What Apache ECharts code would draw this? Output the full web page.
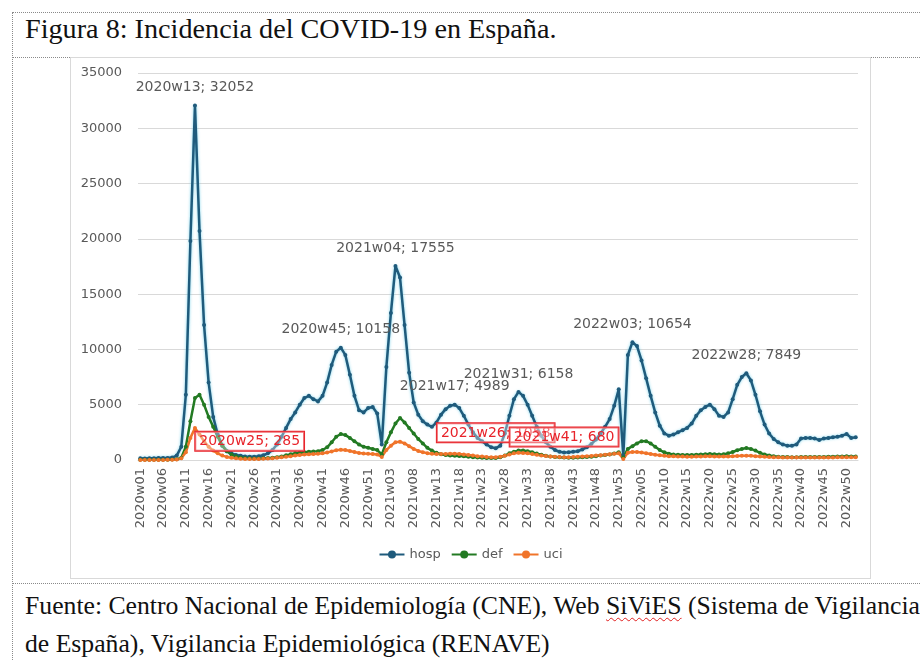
<!DOCTYPE html>
<html><head><meta charset="utf-8">
<script src="https://cdn.jsdelivr.net/npm/echarts@6/dist/echarts.min.js"></script>
<style>
html,body{margin:0;padding:0;background:#fff;width:920px;height:660px;overflow:hidden;}
body{position:relative;}
.hl{position:absolute;height:0;border-top:1px dotted #8a8a8a;}
.vl{position:absolute;width:0;border-left:1px dotted #8a8a8a;}
#title{position:absolute;left:25px;top:13px;font-family:'Liberation Serif','Times New Roman',serif;font-size:28.2px;color:#111;white-space:nowrap;}
#foot{position:absolute;left:25px;top:587px;font-family:'Liberation Serif','Times New Roman',serif;font-size:25.7px;line-height:38px;color:#111;white-space:nowrap;}
.sq{text-decoration:underline wavy #e02020;text-decoration-thickness:1px;text-underline-offset:3px;}
#chart{position:absolute;left:71px;top:58px;width:799px;height:520px;background:#fff;outline:1px solid #d9d9d9;}
</style></head>
<body>
<div class="hl" style="left:12px;top:12px;width:908px"></div>
<div class="vl" style="left:12px;top:12px;height:648px"></div>
<div class="hl" style="left:12px;top:57px;width:908px"></div>
<div class="hl" style="left:12px;top:583px;width:908px"></div>
<div id="title">Figura 8: Incidencia del COVID-19 en España.</div>
<div id="foot">Fuente: Centro Nacional de Epidemiología (CNE), Web <span class="sq">SiViES</span> (Sistema de Vigilancia<br>de España), Vigilancia Epidemiológica (RENAVE)</div>
<div id="chart"></div>
<script>
// ---- categories (weeks as used in the source) ----
var years = [2020, 2021, 2022];
var weeksPerYear = [53, 53, 52];
var categories = [];
years.forEach(function (y, k) {
  for (var w = 1; w <= weeksPerYear[k]; w++) categories.push(y + 'w' + (w < 10 ? '0' + w : w));
});

// ---- series values ----
var hosp2020 = [150,140,150,160,170,170,180,220,400,1200,5900,19800,32052,20700,12200,7000,3900,2300,1300,800,600,460,380,320,285,300,340,430,600,900,1400,2100,2900,3700,4300,5000,5600,5800,5500,5300,5800,7000,8600,9800,10158,9500,7700,5800,4500,4300,4700,4800,4200];
var hosp2021 = [1400,8400,13300,17555,16500,12200,7900,5200,4100,3500,3200,3000,3400,4100,4600,4900,4989,4700,4000,3200,2500,2000,1700,1400,1150,1058,1300,2400,4000,5500,6158,5800,5000,4000,3000,2200,1600,1200,900,750,680,700,750,800,950,1150,1450,1850,2400,3000,3700,4900,6400];
var hosp2022 = [400,9500,10654,10300,9000,7400,5800,4300,3100,2400,2200,2300,2500,2700,2900,3300,4000,4500,4800,5000,4600,4000,3900,4300,5500,6800,7500,7849,7200,5900,4400,3200,2400,1900,1600,1400,1300,1300,1400,1950,2000,2000,1950,1800,1950,2000,2050,2100,2200,2350,2000,2050];

var def2020 = [20,20,20,20,20,25,30,40,60,200,1200,3500,5600,5900,5000,3900,3000,2100,1300,800,500,330,230,180,150,140,140,150,170,200,250,320,420,520,600,650,700,750,780,800,900,1150,1600,2100,2350,2250,2000,1700,1400,1200,1100,1000,900];
var def2021 = [500,1600,2500,3300,3800,3400,2900,2400,1900,1500,1100,850,650,520,450,400,380,360,330,300,260,230,200,190,180,190,250,400,600,750,850,850,800,700,580,470,380,320,270,240,220,210,210,220,240,270,300,350,400,450,500,580,700];
var def2022 = [250,1000,1250,1500,1700,1700,1500,1200,900,700,560,500,480,460,450,460,480,500,520,540,520,500,520,600,720,880,1000,1080,1000,850,650,500,400,340,300,280,270,260,260,270,280,280,280,280,280,290,300,310,320,330,320,320];

var uci2020 = [10,10,10,10,10,10,15,20,40,150,700,2000,2900,2300,1700,1200,850,600,400,280,200,150,120,100,90,90,95,110,130,160,200,250,300,350,400,450,500,530,550,560,600,680,780,880,930,900,820,720,640,580,560,550,500];
var uci2021 = [280,900,1300,1600,1650,1500,1250,1000,820,700,620,560,540,540,550,560,560,540,500,450,400,350,310,280,260,260,290,380,500,600,650,640,600,540,470,410,360,320,290,270,260,260,270,290,310,340,370,400,440,480,520,560,620];
var uci2022 = [100,650,720,720,680,620,550,480,420,380,350,330,320,310,300,300,310,320,330,330,320,310,310,320,340,360,380,390,380,350,320,290,270,250,240,230,230,230,230,230,230,230,230,230,230,230,230,240,240,240,240,240];

var seriesNames = ['hosp', 'def', 'uci'];
var hosp = hosp2020.concat(hosp2021, hosp2022);
var def = def2020.concat(def2021, def2022);
var uci = uci2020.concat(uci2021, uci2022);

// labelled weeks
var peakWeeks = ['2020w13', '2020w45', '2021w04', '2021w17', '2021w31', '2022w03', '2022w28'];
var lowWeeks = ['2020w25', '2021w26', '2021w41'];

var FONT = "'DejaVu Sans', sans-serif";
var hospData = hosp.map(function (v, i) {
  var c = categories[i];
  if (peakWeeks.indexOf(c) >= 0) {
    return { value: v, label: { show: true, position: 'top', distance: 9, color: '#595959', fontSize: 14, fontFamily: FONT, formatter: '{b}; {c}' } };
  }
  if (lowWeeks.indexOf(c) >= 0) {
    return { value: v, label: { show: true, position: 'top', distance: 4, color: '#e8232a', fontSize: 14, fontFamily: FONT,
      borderColor: '#e8232a', borderWidth: 1, backgroundColor: 'rgba(255,255,255,0.35)', padding: [3, 4, 2, 4], formatter: '{b}; {c}' } };
  }
  return v;
});

var chart = echarts.init(document.getElementById('chart'));
chart.setOption({
  animation: false,
  textStyle: { fontFamily: FONT },
  grid: { left: 67, right: 12, top: 15, bottom: 118 },
  legend: {
    data: seriesNames,
    top: 485, left: 'center',
    itemWidth: 25, itemHeight: 10, itemGap: 10,
    textStyle: { color: '#595959', fontSize: 13, fontFamily: FONT }
  },
  xAxis: {
    type: 'category',
    data: categories,
    boundaryGap: true,
    axisLine: { show: true, lineStyle: { color: '#d9d9d9', width: 1 } },
    axisTick: { show: false },
    axisLabel: { interval: 4, rotate: 90, color: '#595959', fontSize: 13, margin: 8, fontFamily: FONT }
  },
  yAxis: {
    type: 'value', min: 0, max: 35000, interval: 5000,
    axisLine: { show: false }, axisTick: { show: false },
    splitLine: { lineStyle: { color: '#d9d9d9', width: 1 } },
    axisLabel: { color: '#595959', fontSize: 13, margin: 16, fontFamily: FONT, formatter: function (v) { return String(v); } }
  },
  series: [
    { name: 'hosp', type: 'line', data: hospData, color: '#1f5b7c', showAllSymbol: true,
      symbol: 'circle', symbolSize: 4,
      lineStyle: { width: 2.5, color: '#1f5b7c', shadowColor: 'rgba(90,200,230,0.8)', shadowBlur: 3 },
      itemStyle: { color: '#1f5b7c' } },
    { name: 'def', type: 'line', data: def, color: '#237a23', showAllSymbol: true,
      symbol: 'circle', symbolSize: 4,
      lineStyle: { width: 2.5, color: '#237a23' }, itemStyle: { color: '#237a23' } },
    { name: 'uci', type: 'line', data: uci, color: '#f0742a', showAllSymbol: true,
      symbol: 'circle', symbolSize: 4,
      lineStyle: { width: 2.5, color: '#f0742a' }, itemStyle: { color: '#f0742a' } }
  ]
});
</script>
</body></html>
